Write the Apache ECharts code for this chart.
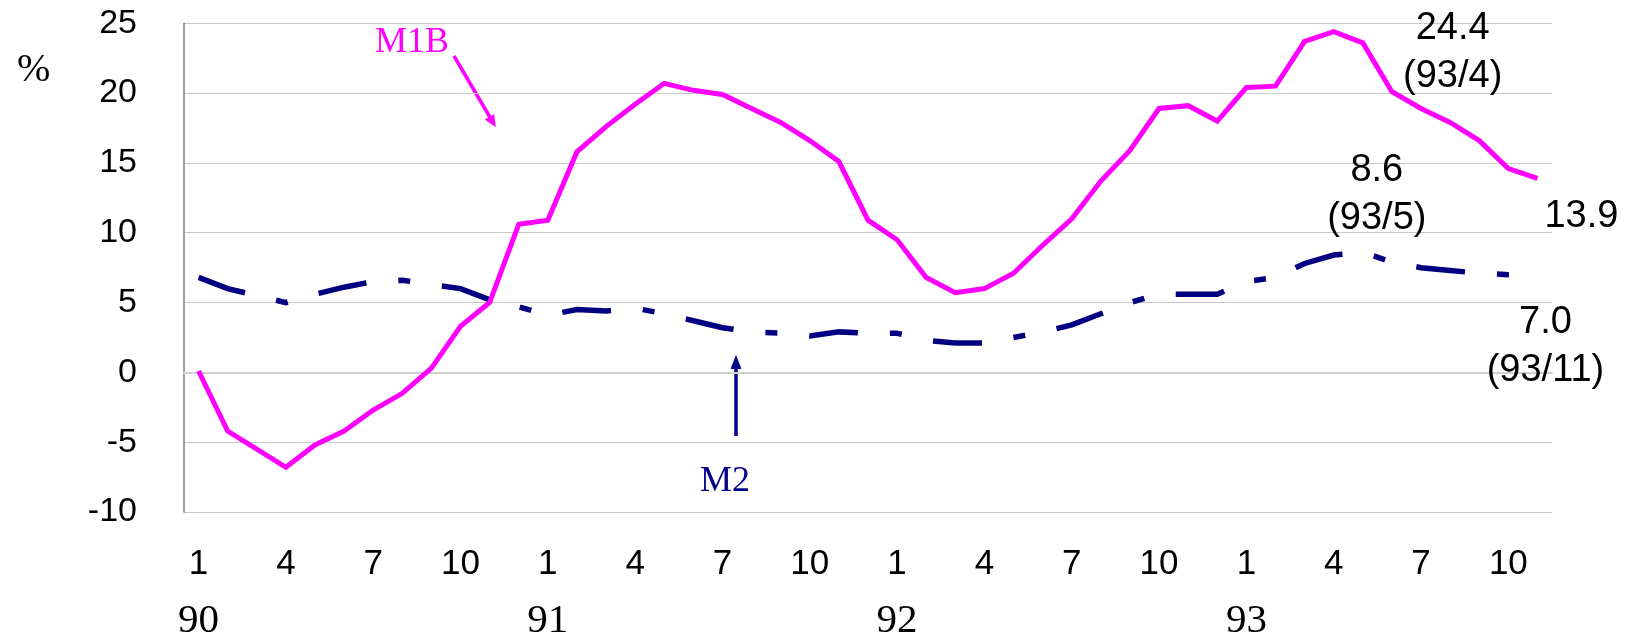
<!DOCTYPE html>
<html>
<head>
<meta charset="utf-8">
<script src="https://cdn.jsdelivr.net/npm/echarts@6/dist/echarts.min.js"></script>
<style>
  html, body { margin: 0; padding: 0; background: #ffffff; }
  #chart { width: 1626px; height: 642px; }
</style>
</head>
<body>
<div id="chart"></div>
<script>
// ---- data ----
const years = ['90', '91', '92', '93'];
const monthsInYear = [12, 12, 12, 11];

// M1B, % y/y, 1990/1 .. 1993/11
const m1b = [
  0.1, -4.2, -5.5, -6.8, -5.2, -4.2, -2.7, -1.5, 0.3, 3.3, 5.0, 10.6,
  10.9, 15.8, 17.6, 19.2, 20.7, 20.2, 19.9, 18.9, 17.9, 16.6, 15.1, 10.9,
  9.5, 6.8, 5.7, 6.0, 7.1, 9.1, 11.0, 13.7, 15.9, 18.9, 19.1, 18.0,
  20.4, 20.5, 23.7, 24.4, 23.6, 20.1, 18.9, 17.9, 16.6, 14.6, 13.9
];
// M2, % y/y
const m2 = [
  6.8, 6.0, 5.5, 5.0, 5.6, 6.1, 6.5, 6.6, 6.3, 6.0, 5.2, 4.7,
  4.1, 4.5, 4.4, 4.6, 4.2, 3.7, 3.2, 2.9, 2.8, 2.6, 2.9, 2.8,
  2.8, 2.3, 2.1, 2.1, 2.5, 2.9, 3.4, 4.2, 5.0, 5.6, 5.6, 5.6,
  6.5, 6.8, 7.8, 8.4, 8.6, 7.9, 7.5, 7.3, 7.1, 7.0, 7.0
];

// annotations
const m1bPeak = { idx: 39, text: '24.4\n(93/4)' };
const m1bLast = { idx: 46, text: '13.9' };
const m2Peak = { idx: 40, text: '8.6\n(93/5)' };
const m2Last = { idx: 46, text: '7.0\n(93/11)' };

// ---- categories ----
const categories = [];
years.forEach(function (y, yi) {
  for (let m = 1; m <= monthsInYear[yi]; m++) categories.push(y + '/' + m);
});

const chart = echarts.init(document.getElementById('chart'), null, { renderer: 'canvas' });

const annoLabel = {
  show: true,
  position: 'inside',
  color: '#000',
  fontFamily: 'Liberation Sans',
  fontSize: 38,
  lineHeight: 48,
  align: 'center',
  verticalAlign: 'middle'
};
function mp(seriesData, a, offset) {
  return {
    coord: [categories[a.idx], seriesData[a.idx]],
    symbol: 'circle',
    symbolSize: 0,
    label: Object.assign({}, annoLabel, { formatter: a.text, offset: offset })
  };
}

const option = {
  backgroundColor: '#ffffff',
  animation: false,
  grid: { left: 184, right: 74, top: 23.3, bottom: 130 },
  xAxis: [
    {
      type: 'category',
      data: categories,
      boundaryGap: true,
      position: 'bottom',
      axisLine: { show: true, lineStyle: { color: '#d0d0d0', width: 2 } },
      axisTick: { show: false },
      axisLabel: {
        interval: 2,
        margin: 35,
        color: '#000',
        fontFamily: 'Liberation Sans',
        fontSize: 35,
        formatter: function (v) { return v.split('/')[1]; }
      },
      splitLine: { show: false }
    },
    {
      type: 'category',
      data: categories,
      boundaryGap: true,
      position: 'bottom',
      offset: 0,
      axisLine: { show: false },
      axisTick: { show: false },
      axisLabel: {
        interval: 11,
        margin: 89,
        color: '#000',
        fontFamily: 'Liberation Serif',
        fontSize: 41,
        formatter: function (v) { return v.split('/')[0]; }
      },
      splitLine: { show: false }
    }
  ],
  yAxis: {
    type: 'value',
    min: -10,
    max: 25,
    interval: 5,
    axisLine: { show: true, lineStyle: { color: '#808080', width: 1.5 } },
    axisTick: { show: false },
    axisLabel: {
      margin: 47,
      color: '#000',
      fontFamily: 'Liberation Sans',
      fontSize: 34
    },
    splitLine: { show: true, lineStyle: { color: '#c8c8c8', width: 1.2 } }
  },
  series: [
    {
      name: 'M2',
      type: 'line',
      data: m2,
      showSymbol: false,
      symbol: 'none',
      lineStyle: { color: '#000080', width: 5.5, type: [49, 32, 12, 32], cap: 'butt', join: 'miter' },
      z: 3,
      markPoint: {
        silent: true,
        data: [mp(m2, m2Peak, [14, -58]), mp(m2, m2Last, [8, 72])]
      }
    },
    {
      name: 'M1B',
      type: 'line',
      data: m1b,
      showSymbol: false,
      symbol: 'none',
      lineStyle: { color: '#ff00ff', width: 5, join: 'miter' },
      z: 4,
      markPoint: {
        silent: true,
        data: [mp(m1b, m1bPeak, [119, 21]), mp(m1b, m1bLast, [44, 38])]
      }
    }
  ],
  graphic: [
    { type: 'text', left: 17, top: 50, style: { text: '%', fill: '#000', font: '40px "Liberation Serif"' } },
    { type: 'text', x: 412, y: 43, style: { text: 'M1B', fill: '#ff00ff', font: '36px "Liberation Serif"', textAlign: 'center', textVerticalAlign: 'middle' } },
    { type: 'line', shape: { x1: 454, y1: 56, x2: 491, y2: 119 }, style: { stroke: '#ff00ff', lineWidth: 3.5 } },
    { type: 'polygon', shape: { points: [[495.7, 127.3], [494.2, 113.9], [484.8, 119.4]] }, style: { fill: '#ff00ff' } },
    { type: 'text', x: 725, y: 482, style: { text: 'M2', fill: '#00008b', font: '36px "Liberation Serif"', textAlign: 'center', textVerticalAlign: 'middle' } },
    { type: 'line', shape: { x1: 736, y1: 436, x2: 736, y2: 366 }, style: { stroke: '#00008b', lineWidth: 3.5 } },
    { type: 'polygon', shape: { points: [[736, 355], [730.5, 369], [741.5, 369]] }, style: { fill: '#00008b' } }
  ]
};

chart.setOption(option);
</script>
</body>
</html>
